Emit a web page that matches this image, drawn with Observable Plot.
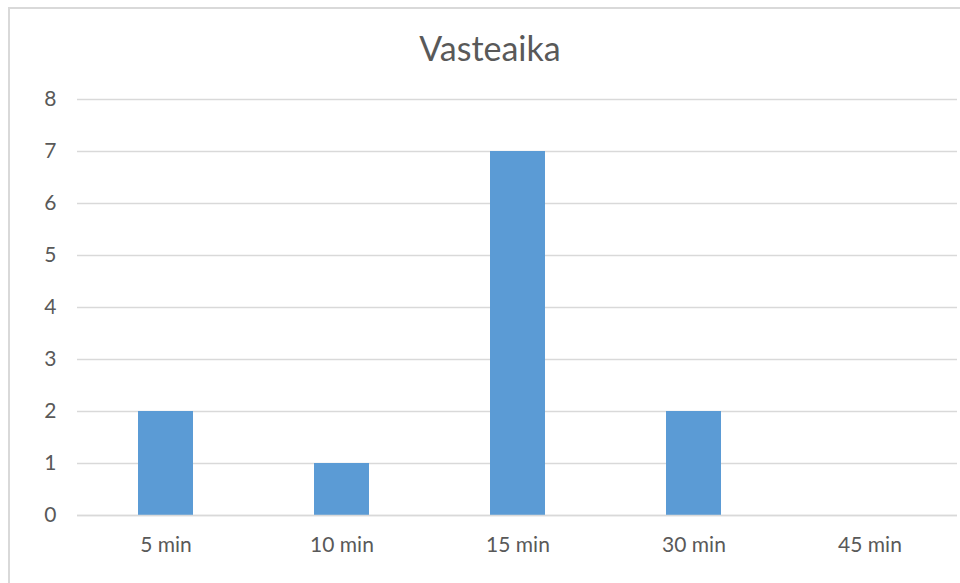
<!DOCTYPE html>
<html>
<head>
<meta charset="utf-8">
<script src="https://cdn.jsdelivr.net/npm/d3@7"></script>
<script src="https://cdn.jsdelivr.net/npm/@observablehq/plot@0.6"></script>
<style>
  html, body { margin: 0; padding: 0; background: #fff; overflow: hidden; }
  #wrap { position: relative; width: 960px; height: 583px; }
  #border { position: absolute; left: 8px; top: 7px; right: -10px; bottom: -10px;
            border-left: 2px solid #d9d9d9; border-top: 2px solid #d9d9d9; }
  #title { position: absolute; left: 0; width: 980px; top: 31px; text-align: center;
           font-family: Lato, sans-serif; font-size: 34px; color: #595959; line-height: 1; }
  #chart { position: absolute; left: 0; top: 0; }
</style>
</head>
<body>
<div id="wrap">
  <div id="border"></div>
  <div id="chart"></div>
  <div id="title">Vasteaika</div>
</div>
<script>
const categories = ["5 min", "10 min", "15 min", "30 min", "45 min"];
const counts = [2, 1, 7, 2, 0];
const yTicks = [0, 1, 2, 3, 4, 5, 6, 7, 8];

const data = categories.map((c, i) => ({category: c, value: counts[i]}));

const chart = Plot.plot({
  width: 960,
  height: 583,
  marginTop: 99,
  marginBottom: 68,
  marginLeft: 77,
  marginRight: 3,
  style: {fontFamily: "Lato, sans-serif", fontSize: "21px", color: "#595959", background: "transparent"},
  x: {domain: categories, paddingInner: 0.6875, paddingOuter: 0.34375, label: null},
  y: {domain: [0, 8], label: null},
  marks: [
    Plot.gridY(yTicks, {stroke: "#d9d9d9", strokeOpacity: 1, strokeWidth: 1.5}),
    Plot.barY(data, {x: "category", y: "value", fill: "#5b9bd5"}),
    Plot.ruleY([0], {stroke: "#d9d9d9", strokeWidth: 1.5}),
    Plot.axisY(yTicks, {tickSize: 0, tickPadding: 21, tickFormat: d3.format("d"), fill: "#595959", fontSize: 21}),
    Plot.axisX({tickSize: 0, tickPadding: 22, fill: "#595959", fontSize: 21})
  ]
});
document.getElementById("chart").appendChild(chart);
</script>
</body>
</html>
